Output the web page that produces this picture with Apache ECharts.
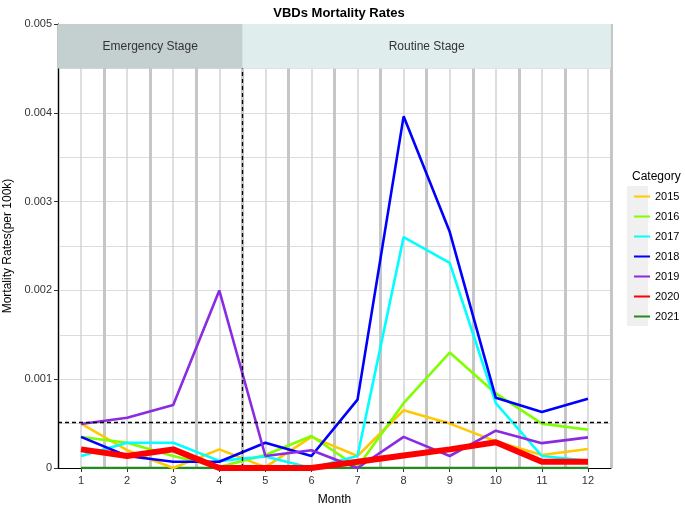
<!DOCTYPE html>
<html>
<head>
<meta charset="utf-8">
<script src="https://cdn.jsdelivr.net/npm/echarts@6/dist/echarts.min.js"></script>
<style>html,body{margin:0;padding:0;background:#fff}#c{width:685px;height:511px}</style>
</head>
<body>
<div id="c"></div>
<script>
const months = [1,2,3,4,5,6,7,8,9,10,11,12];
const years = ['2015','2016','2017','2018','2019','2020','2021'];
const s2015 = [0.0005, 0.0002, 0.0, 0.00021, 0.00001, 0.00035, 0.000135, 0.00065, 0.0005, 0.0003, 0.000146, 0.000214];
const s2016 = [0.00035, 0.000285, 0.000135, 0.00001, 0.000146, 0.00036, 0.00001, 0.00073, 0.0013, 0.00084, 0.0005, 0.00043];
const s2017 = [0.000135, 0.000285, 0.000285, 0.00008, 0.00013, 0.0, 0.000135, 0.0026, 0.00231, 0.00073, 0.000135, 0.00008];
const s2018 = [0.00035, 0.000135, 0.00007, 0.00007, 0.000285, 0.000135, 0.00077, 0.00396, 0.00266, 0.00079, 0.00063, 0.00078];
const s2019 = [0.000495, 0.000566, 0.00071, 0.002, 0.000135, 0.0002, 0.0, 0.00035, 0.000135, 0.00042, 0.00028, 0.000345];
const s2020 = [0.00021, 0.000135, 0.00021, 0.0, 0.0, 0.0, 0.00007, 0.00014, 0.00021, 0.00029, 0.00007, 0.00007];
const s2021 = [0,0,0,0,0,0,0,0,0,0,0,0];
const seriesValues = [s2015, s2016, s2017, s2018, s2019, s2020, s2021];
const colors = ['#FFC800', '#7FFF00', '#00FFFF', '#0000FF', '#8A2BE2', '#FF0000', '#228B22'];
const refLine = 0.00052;
const stageSplit = 4.5;
const stages = [
  {name: 'Emergency Stage', from: 0.5, to: 4.5, color: '#c4cfcf'},
  {name: 'Routine Stage', from: 4.5, to: 12.5, color: '#dfeded'}
];
const stripBottom = 0.0045, yMax = 0.005;

const chart = echarts.init(document.getElementById('c'));
const font = 'Liberation Sans, Arial, sans-serif';

const series = years.map((y, i) => ({
  name: y,
  type: 'line',
  xAxisIndex: 0,
  showSymbol: false,
  symbol: 'none',
  z: i === 5 ? 5 : (i === 6 ? 3 : 4),
  lineStyle: {width: i === 5 ? 6 : 2.6, color: colors[i]},
  itemStyle: {color: colors[i]},
  data: months.map((m, k) => [m, seriesValues[i][k]])
}));

series[0].markArea = {
  silent: true,
  itemStyle: {opacity: 1},
  label: {show: true, position: 'inside', color: '#333', fontSize: 12, fontFamily: font},
  data: stages.map(s => [
    {name: s.name, xAxis: s.from, yAxis: stripBottom, itemStyle: {color: s.color}},
    {xAxis: s.to, yAxis: yMax}
  ])
};
series[6].markLine = {
  silent: true,
  symbol: 'none',
  label: {show: false},
  lineStyle: {color: '#000', type: [4, 3], width: 1.3},
  data: [
    [{coord: [0.5, refLine]}, {coord: [12.5, refLine]}],
    [{coord: [stageSplit, 0]}, {coord: [stageSplit, stripBottom]}]
  ]
};

chart.setOption({
  animation: false,
  backgroundColor: '#fff',
  textStyle: {fontFamily: font},
  title: [
    {text: 'VBDs Mortality Rates', left: 334, textAlign: 'center', top: 2,
     textStyle: {fontSize: 13, fontWeight: 'bold', color: '#000', fontFamily: font}},
    {text: 'Category', left: 627, top: 166,
     textStyle: {fontSize: 12, fontWeight: 'normal', color: '#000', fontFamily: font}}
  ],
  graphic: [{type: 'rect', shape: {x: 627, y: 186, width: 21, height: 140}, style: {fill: '#f0f0f0'}, z: -1}],
  legend: {
    data: years,
    orient: 'vertical',
    left: 629, top: 186,
    icon: 'rect',
    itemWidth: 16, itemHeight: 2,
    itemGap: 9,
    textStyle: {fontSize: 11, color: '#000', fontFamily: font}
  },
  grid: {left: 58, right: 74, top: 24, bottom: 43, containLabel: false, outerBoundsMode: 'none'},
  xAxis: [
    {type: 'value', min: 0.5, max: 12.5, interval: 0.5,
     name: 'Month', nameLocation: 'middle', nameGap: 26,
     nameTextStyle: {fontSize: 12, color: '#000'},
     axisLine: {show: true, lineStyle: {color: '#000', width: 1}},
     axisTick: {show: true, customValues: months, length: 4, lineStyle: {color: '#333'}},
     axisLabel: {customValues: months, color: '#333', fontSize: 11, margin: 7,
                 formatter: v => (Number.isInteger(v) ? String(v) : '')},
     splitLine: {show: true, lineStyle: {color: '#d3d3d3', width: 1.5}}},
    {type: 'value', min: 0.5, max: 12.5, interval: 1, position: 'bottom',
     axisLine: {show: false}, axisTick: {show: false}, axisLabel: {show: false},
     splitLine: {show: true, lineStyle: {color: '#c6c6c6', width: 3}}}
  ],
  yAxis: {
    type: 'value', min: 0, max: yMax, interval: 0.001,
    name: 'Mortality Rates(per 100k)', nameLocation: 'middle', nameGap: 42,
    nameTextStyle: {fontSize: 12, color: '#000'},
    axisLine: {show: true, lineStyle: {color: '#000', width: 1}},
    axisTick: {show: true, length: 4, lineStyle: {color: '#333'}},
    axisLabel: {color: '#333', fontSize: 11, margin: 6},
    splitLine: {show: true, lineStyle: {color: '#dcdcdc', width: 1.2}},
    minorTick: {show: false, splitNumber: 2},
    minorSplitLine: {show: true, lineStyle: {color: '#dcdcdc', width: 1.2}}
  },
  series: series
});
</script>
</body>
</html>
